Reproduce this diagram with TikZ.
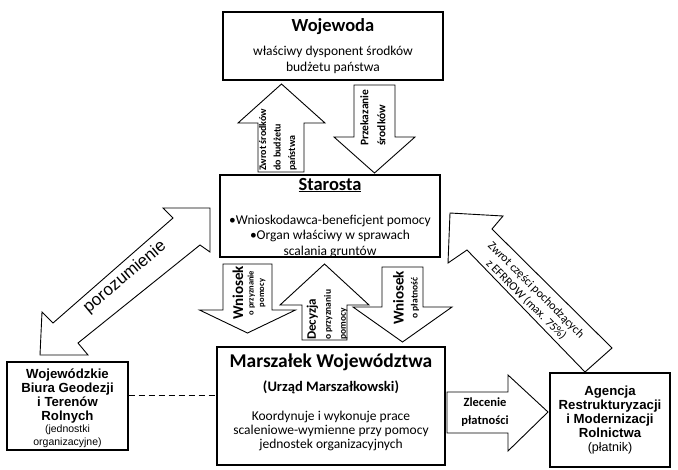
\documentclass[tikz,border=0pt]{standalone}
\usepackage{fontspec}
\setmainfont{Carlito}
\newfontfamily\arialfont{Liberation Sans}
\usetikzlibrary{positioning}

\begin{document}
\begin{tikzpicture}[x=1pt,y=-1pt,
        box/.style={draw,line width=1.1pt,inner sep=0pt},
        bigbox/.style={draw,line width=1.8pt,inner sep=0pt},
        blockarrow/.style={draw,line width=0.9pt,fill=white,line join=miter},
        boxtitle/.style={inner sep=0pt,font=\fontsize{18.5}{18.5}\selectfont\bfseries},
        boxtext/.style={inner sep=0pt,align=center,font=\fontsize{13.5}{16}\selectfont},
        arialtext/.style={inner sep=0pt,align=center,font=\arialfont\bfseries\fontsize{13.2}{14}\selectfont},
        arrowtext/.style={inner sep=0pt,rotate=90,font=\bfseries}]

    \useasboundingbox (0,0) rectangle (678,469);

    % boxes
    \node[box,minimum width=220,minimum height=68]  (wojewoda)  at (333,46)    {};
    \node[box,minimum width=220,minimum height=82]  (starosta)  at (330,216)   {};
    \node[bigbox,minimum width=228,minimum height=118] (marszalek) at (331,406) {};
    \node[box,minimum width=121,minimum height=88]  (biura)     at (67.5,406)  {};
    \node[box,minimum width=120,minimum height=94]  (agencja)   at (610,420)   {};

    \node[boxtitle] (wojewoda-t) at (333,27) {Wojewoda};
    \node[boxtext]  (wojewoda-d) at (333,60) {właściwy dysponent środków\\budżetu państwa};

    \node[boxtitle] (starosta-t) at (330,185) {\underline{Starosta}};
    \node[boxtext,font=\fontsize{13.5}{15.5}\selectfont] (starosta-d) at (330,236)
        {•Wnioskodawca-beneficjent pomocy\\•Organ właściwy w sprawach\\scalania gruntów};

    \node[boxtitle,font=\fontsize{19.5}{19.5}\selectfont\bfseries] (marszalek-t) at (331,362) {Marszałek Województwa};
    \node[boxtitle,font=\fontsize{14.5}{14.5}\selectfont\bfseries] (marszalek-u) at (331,387) {(Urząd Marszałkowski)};
    \node[boxtext,font=\fontsize{13.5}{14}\selectfont] (marszalek-d) at (331,431)
        {Koordynuje i wykonuje prace\\scaleniowe-wymienne przy pomocy\\jednostek organizacyjnych};

    \node[arialtext] (biura-t) at (67.5,396) {Wojewódzkie\\Biura Geodezji\\i Terenów\\Rolnych};
    \node[arialtext,font=\arialfont\fontsize{10.5}{13}\selectfont] (biura-d) at (67.5,436.5) {(jednostki\\organizacyjne)};

    \node[arialtext] (agencja-t) at (610,411.5) {Agencja\\Restrukturyzacji\\i Modernizacji\\Rolnictwa};
    \node[arialtext,font=\arialfont\fontsize{12.5}{14}\selectfont] (agencja-d) at (610,448) {(płatnik)};

    \draw[line width=1pt,dash pattern=on 6pt off 4pt]
        ([yshift=11pt]biura.east) -- ([yshift=11pt]biura.east -| marszalek.west);

    % block arrows
    \draw[blockarrow] (258,172) -- (258,123) -- (238,123) -- (281.5,84) -- (325,123)
        -- (304,123) -- (304,172) -- cycle;
    \draw[blockarrow] (354,85) -- (395,85) -- (395,137) -- (415,137) -- (374.5,173)
        -- (334,137) -- (354,137) -- cycle;
    \draw[blockarrow] (223,264) -- (272,264) -- (272,310) -- (295.5,310) -- (247.5,333)
        -- (199.5,310) -- (223,310) -- cycle;
    \draw[blockarrow] (302,340) -- (302,305) -- (280,305) -- (324.5,264) -- (369,305)
        -- (347,305) -- (347,340) -- cycle;
    \draw[blockarrow] (382,267) -- (423,267) -- (423,307) -- (452,307) -- (402.5,342)
        -- (353,307) -- (382,307) -- cycle;
    \draw[blockarrow] (447,392) -- (508,392) -- (508,375) -- (548,412) -- (508,451)
        -- (508,433) -- (447,433) -- cycle;
    \draw[blockarrow] (450,213) -- (503,216) -- (492,229) -- (612,348) -- (585,372)
        -- (467,250) -- (448,263) -- cycle;
    \draw[blockarrow] (40,355) -- (42,312) -- (53,323) -- (173,218) -- (163,208)
        -- (210,208) -- (210,252) -- (200,245) -- (78,343) -- (88,355) -- cycle;

    % arrow labels
    \node[arrowtext,align=left,anchor=west,font=\fontsize{10}{14.5}\selectfont\bfseries]
        (zwrot) at (278,171) {Zwrot środków\\do budżetu\\państwa};
    \node[arrowtext,align=left,anchor=west,font=\fontsize{11.5}{17}\selectfont\bfseries]
        (przekazanie) at (373,146) {Przekazanie\\środków};
    \node[arrowtext,align=center,font=\fontsize{8.5}{10.5}\selectfont\bfseries]
        (wniosek-p) at (249,293) {{\fontsize{15}{15}\selectfont Wniosek}\\o przyznanie\\pomocy};
    \node[arrowtext,align=left,anchor=west,font=\fontsize{9.5}{15}\selectfont\bfseries]
        (decyzja) at (327,340) {{\fontsize{13}{13}\selectfont Decyzja}\\o przyznaniu\\pomocy};
    \node[arrowtext,align=center,font=\fontsize{9.5}{14}\selectfont\bfseries]
        (wniosek-z) at (406,298) {{\fontsize{15}{15}\selectfont Wniosek}\\o płatność};
    \node[inner sep=0pt,align=center,font=\fontsize{12.5}{18}\selectfont\bfseries]
        (zlecenie) at (485,412) {Zlecenie\\płatności};
    \node[inner sep=0pt,align=center,rotate=-45,font=\fontsize{12}{14}\selectfont]
        (efrrow) at (531,295) {Zwrot części pochodzących\\z EFRROW (max. 75\%)};
    \node[inner sep=0pt,rotate=40,font=\arialfont\fontsize{17}{17}\selectfont]
        (porozumienie) at (125,277) {porozumienie};
\end{tikzpicture}
\end{document}
